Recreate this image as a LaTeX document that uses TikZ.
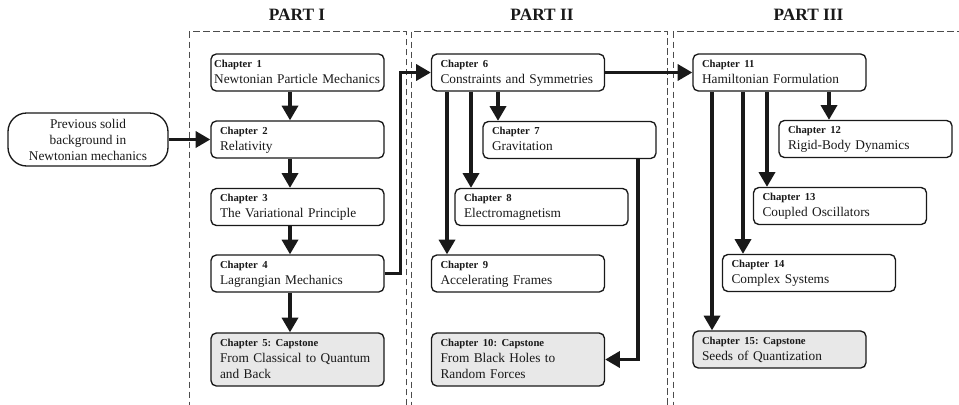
\documentclass[tikz,border=0pt]{standalone}
\usepackage{fontspec}
\setmainfont{Liberation Serif}
\usetikzlibrary{arrows.meta,calc}
\frenchspacing
\newcommand\chapbox[2]{\rule{0pt}{9.75pt}{\fontsize{8}{12}\selectfont\bfseries #1}\\#2\rule[-6pt]{0pt}{6pt}}
\begin{document}
\begin{tikzpicture}[x=0.75pt,y=-0.75pt,
  chap/.style={draw=black!90, line width=1pt, rounded corners=4pt, align=left,
    text width=116.25pt, inner xsep=6.75pt, inner ysep=0pt,
    font=\fontsize{10}{12}\selectfont, text=black!90},
  capbox/.style={chap, fill=gray!18},
  prevbox/.style={draw=black!90, line width=1pt, rounded corners=14pt, align=center,
    minimum width=120pt, minimum height=39.75pt, inner sep=0pt,
    font=\fontsize{10}{12}\selectfont, text=black!90},
  arr/.style={draw=black!90, line width=2.5pt, -{Triangle[length=11pt,width=12pt]}},
  partbox/.style={draw=black!70, line width=0.7pt, dash pattern=on 5pt off 2.5pt},
  parthead/.style={font=\fontsize{13}{15}\selectfont\bfseries, text=black!90, inner sep=0pt}
]
\useasboundingbox (0,0) rectangle (959,404);

% part frames
\draw[partbox] (189,31.7) rectangle (406,420);
\draw[partbox] (411,31.7) rectangle (667.5,420);
\draw[partbox] (673,31.7) rectangle (975,420);
\node[parthead] (h1) at (297,15) {PART I};
\node[parthead] (h2) at (542,15) {PART II};
\node[parthead] (h3) at (808.5,15) {PART III};

% nodes
\node[prevbox] (prev) at (88,139.5) {Previous solid\\background in\\Newtonian mechanics};

\node[chap, inner xsep=2.4pt, text width=125pt] (c1) at (297.5,72.5) {\chapbox{Chapter 1}{Newtonian Particle Mechanics}};
\node[chap] (c2) at (297.5,139.5) {\chapbox{Chapter 2}{Relativity}};
\node[chap] (c3) at (297.5,207) {\chapbox{Chapter 3}{The Variational Principle}};
\node[chap] (c4) at (297.5,273.5) {\chapbox{Chapter 4}{Lagrangian Mechanics}};
\node[capbox] (c5) at (297.5,359.5) {\chapbox{Chapter 5: Capstone}{From Classical to Quantum\\and Back}};

\node[chap] (c6) at (518,72.5) {\chapbox{Chapter 6}{Constraints and Symmetries}};
\node[chap] (c7) at (569.5,140) {\chapbox{Chapter 7}{Gravitation}};
\node[chap] (c8) at (541.5,207) {\chapbox{Chapter 8}{Electromagnetism}};
\node[chap] (c9) at (518,273.5) {\chapbox{Chapter 9}{Accelerating Frames}};
\node[capbox] (c10) at (518,359.5) {\chapbox{Chapter 10: Capstone}{From Black Holes to\\Random Forces}};

\node[chap] (c11) at (779.5,72.5) {\chapbox{Chapter 11}{Hamiltonian Formulation}};
\node[chap] (c12) at (865.5,139) {\chapbox{Chapter 12}{Rigid-Body Dynamics}};
\node[chap] (c13) at (840,206) {\chapbox{Chapter 13}{Coupled Oscillators}};
\node[chap] (c14) at (809,273) {\chapbox{Chapter 14}{Complex Systems}};
\node[capbox] (c15) at (779.5,349.5) {\chapbox{Chapter 15: Capstone}{Seeds of Quantization}};

% connectors
\draw[arr] (prev) -- (c2);
\draw[arr] ($(c1.south)+(-7.5,0)$) coordinate (a1) -- (a1 |- c2.north);
\draw[arr] ($(c2.south)+(-7.5,0)$) coordinate (a2) -- (a2 |- c3.north);
\draw[arr] ($(c3.south)+(-7.5,0)$) coordinate (a3) -- (a3 |- c4.north);
\draw[arr] ($(c4.south)+(-7.5,0)$) coordinate (a4) -- (a4 |- c5.north);
\draw[arr] (c4.east) -- ++(16,0) |- (c6.west);

\draw[arr] ($(c6.south)+(-20,0)$) coordinate (b7) -- (b7 |- c7.north);
\draw[arr] ($(c6.south)+(-47,0)$) coordinate (b8) -- (b8 |- c8.north);
\draw[arr] ($(c6.south)+(-71,0)$) coordinate (b9) -- (b9 |- c9.north);
\draw[arr] ($(c7.south)+(68.5,0)$) |- (c10.east);
\draw[arr] (c6.east) -- (c11.west);

\draw[arr] ($(c11.south)+(49.5,0)$) coordinate (d12) -- (d12 |- c12.north);
\draw[arr] ($(c11.south)+(-12.5,0)$) coordinate (d13) -- (d13 |- c13.north);
\draw[arr] ($(c11.south)+(-36.5,0)$) coordinate (d14) -- (d14 |- c14.north);
\draw[arr] ($(c11.south)+(-67.5,0)$) coordinate (d15) -- (d15 |- c15.north);
\end{tikzpicture}
\end{document}
